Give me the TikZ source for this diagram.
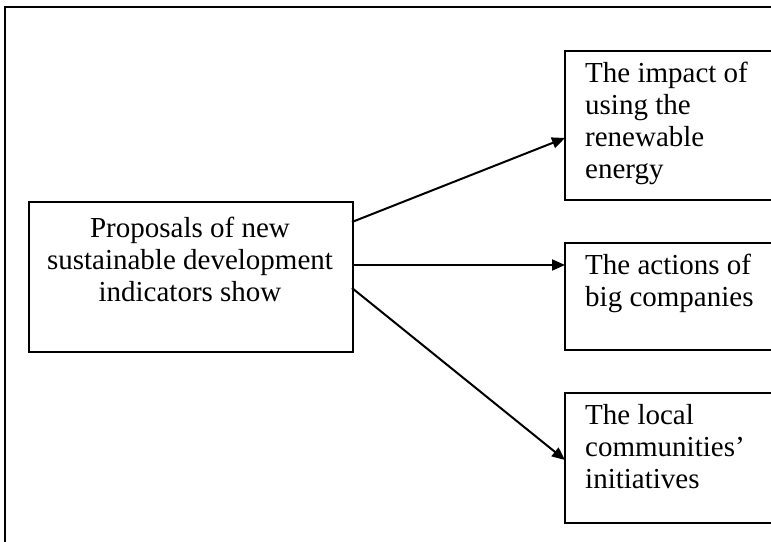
\documentclass[tikz,border=0pt]{standalone}
\usepackage{fontspec}
\setmainfont{Liberation Serif}
\usetikzlibrary{arrows.meta}
\begin{document}
\begin{tikzpicture}[x=1pt,y=-1pt,
  box/.style={draw,line width=2pt},
  lbl/.style={font=\fontsize{29}{32}\selectfont,align=left,anchor=north west,inner sep=0pt},
  clbl/.style={font=\fontsize{29}{32}\selectfont,align=center,inner sep=0pt},
  arr/.style={line width=2pt,-{Triangle[length=13pt,width=11pt]}}]
\useasboundingbox (0,0) rectangle (771,541);
\draw[line width=2.2pt] (5,560) -- (5,7) -- (790,7);
\node[box,minimum width=324pt,minimum height=150pt,anchor=north west] (m) at (28,201) {};
\node[clbl] (mt) at (190,259) {Proposals of new\\sustainable development\\indicators show};
\draw[box] (800,51) -- (565,51) -- (565,200) -- (800,200);
\coordinate (b1) at (565,138);
\draw[box] (800,243) -- (565,243) -- (565,350) -- (800,350);
\coordinate (b2) at (565,265);
\draw[box] (800,393) -- (565,393) -- (565,523) -- (800,523);
\coordinate (b3) at (565,460);
\node[lbl] (t1) at (585,62) {The impact of\\using the\\renewable\\energy};
\node[lbl] (t2) at (585,254) {The actions of\\big companies};
\node[lbl] (t3) at (585,404) {The local\\communities’\\initiatives};
\draw[arr] (352,222) -- (b1);
\draw[arr] (352,265) -- (b2);
\draw[arr] (352,288) -- (b3);
\end{tikzpicture}
\end{document}
